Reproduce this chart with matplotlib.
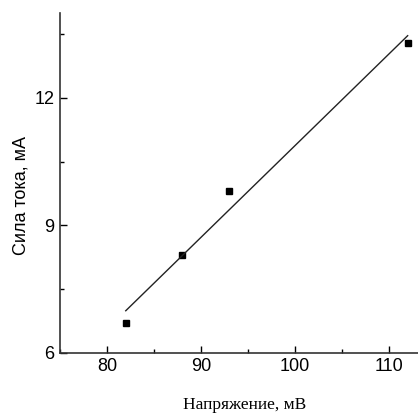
import numpy as np
import matplotlib.pyplot as plt
from matplotlib.ticker import MultipleLocator

voltage = [82, 88, 93, 112]
current = [6.7, 8.3, 9.8, 13.3]

fig = plt.figure(figsize=(4.18, 4.16), dpi=100)
ax = fig.add_axes([0.1435, 0.152, 0.8565, 0.817])

ax.plot(voltage, current, 's', color='black', markersize=5)

# linear fit through the measured points
k, b = np.polyfit(voltage, current, 1)
xfit = np.array([min(voltage), max(voltage)])
ax.plot(xfit, k * xfit + b, color='#222222', linewidth=1.0)

ax.set_xlim(75, 113.1)
ax.set_ylim(6, 14)
ax.xaxis.set_major_locator(MultipleLocator(10))
ax.xaxis.set_minor_locator(MultipleLocator(5))
ax.yaxis.set_major_locator(MultipleLocator(3))
ax.yaxis.set_minor_locator(MultipleLocator(1.5))

ax.spines['top'].set_visible(False)
ax.spines['right'].set_visible(False)
for s in ['left', 'bottom']:
    ax.spines[s].set_linewidth(1.2)
    ax.spines[s].set_color('#333333')

ax.tick_params(which='major', direction='in', length=5, width=1, labelsize=13, pad=4)
ax.tick_params(which='minor', direction='in', length=3, width=1)
for lbl in ax.get_xticklabels() + ax.get_yticklabels():
    lbl.set_family('Liberation Sans')

ax.set_xlabel('Напряжение, мВ', family='Liberation Serif', fontsize=12.5, va='center')
ax.set_ylabel('Сила тока, мА', family='Liberation Sans', fontsize=13, va='center')
ax.xaxis.set_label_coords(0.517, -0.154)
ax.yaxis.set_label_coords(-0.109, 0.462)

fig.savefig('out.png', dpi=100)
